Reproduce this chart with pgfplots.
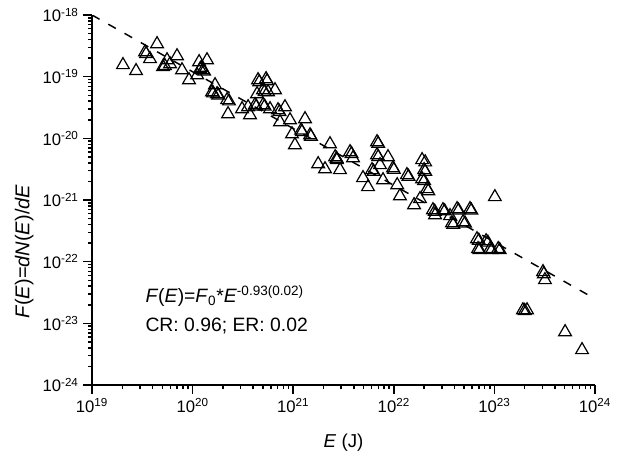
\documentclass[border=0pt]{standalone}
\usepackage{pgfplots}
\pgfplotsset{compat=1.18}
\usepackage{fontspec}
\setmainfont{Liberation Sans}
\pgfplotstableread{
x y
2.03e19 1.55e-19
2.74e19 1.24e-19
4.43e19 3.39e-19
3.37e19 2.51e-19
3.77e19 1.94e-19
5.08e19 1.44e-19
5.57e19 1.86e-19
7.00e19 2.16e-19
5.96e19 1.60e-19
7.85e19 1.28e-19
9.21e19 8.83e-20
1.16e20 1.73e-19
1.39e20 1.86e-19
1.19e20 1.33e-19
1.27e20 1.28e-19
1.11e20 1.06e-19
1.67e20 7.33e-20
1.56e20 5.64e-20
1.75e20 5.24e-20
2.20e20 4.19e-20
2.25e20 2.48e-20
4.47e20 8.83e-20
5.37e20 9.17e-20
4.37e20 5.24e-20
5.01e20 6.08e-20
5.62e20 5.64e-20
6.59e20 6.08e-20
3.10e20 2.99e-20
3.72e20 2.39e-20
3.56e20 3.22e-20
4.17e20 3.48e-20
5.01e20 3.48e-20
5.88e20 2.99e-20
7.06e20 2.88e-20
8.28e20 3.22e-20
7.39e20 1.84e-20
9.29e20 1.98e-20
1.31e21 2.06e-20
9.73e20 1.17e-20
1.22e21 1.27e-20
1.47e21 1.13e-20
1.04e21 7.80e-21
2.32e21 8.09e-21
2.61e21 4.98e-21
1.77e21 3.84e-21
2.07e21 3.18e-21
2.72e21 4.46e-21
2.92e21 3.07e-21
3.67e21 6.00e-21
3.93e21 4.80e-21
6.81e21 8.73e-21
6.81e21 5.37e-21
8.75e21 4.98e-21
6.07e21 3.07e-21
4.94e21 2.28e-21
5.54e21 1.63e-21
7.81e21 2.11e-21
9.82e21 3.30e-21
1.35e22 2.55e-21
1.08e22 1.75e-21
1.15e22 1.16e-21
1.59e22 8.30e-22
1.91e22 4.46e-21
2.00e22 3.07e-21
1.91e22 2.19e-21
2.14e22 1.51e-21
2.45e22 6.89e-22
3.08e22 6.89e-22
3.62e22 5.51e-22
4.25e22 7.15e-22
5.72e22 7.15e-22
3.79e22 4.24e-22
4.88e22 4.40e-22
6.71e22 2.33e-22
6.87e22 1.61e-22
9.04e22 1.61e-22
1.09e23 1.61e-22
8.26e22 2.16e-22
1.01e23 1.12e-21
3.04e23 6.81e-23
3.18e23 5.05e-23
1.92e23 1.64e-23
2.11e23 1.64e-23
5.04e23 7.24e-24
7.43e23 3.70e-24
7.29e21 3.70e-21
1.82e22 1.04e-21
2.57e22 5.71e-22
3.45e19 2.35e-19
5.30e19 1.50e-19
1.22e20 1.40e-19
1.30e20 1.22e-19
4.60e20 8.20e-20
5.50e20 8.50e-20
5.20e20 5.70e-20
4.30e20 3.30e-20
5.20e20 3.30e-20
7.30e20 2.70e-20
2.70e21 4.70e-21
3.80e21 5.60e-21
7.00e21 8.20e-21
7.00e21 5.00e-21
6.30e21 2.90e-21
1.00e22 3.10e-21
1.40e22 2.40e-21
2.05e22 4.10e-21
2.05e22 2.90e-21
2.00e22 2.05e-21
2.20e22 1.40e-21
2.55e22 6.50e-22
3.20e22 6.60e-22
4.40e22 6.80e-22
5.90e22 6.80e-22
3.90e22 4.00e-22
5.10e22 4.20e-22
7.00e22 2.20e-22
7.10e22 1.55e-22
9.40e22 1.55e-22
1.13e23 1.55e-22
8.60e22 2.05e-22
3.10e23 6.30e-23
2.00e23 1.60e-23
1.20e21 1.35e-20
1.50e21 1.07e-20
1.60e20 5.40e-20
1.80e20 5.00e-20
2.30e20 4.00e-20
}\datatable
\begin{document}
\begin{tikzpicture}
\begin{axis}[
  scale only axis,
  width=377.25pt, height=277.5pt,
  xmode=log, ymode=log,
  xmin=1e19, xmax=1e24, ymin=1e-24, ymax=1e-18,
  axis lines=left,
  axis line style={-, line width=1.1pt},
  every tick/.style={black, line width=1.1pt},
  tick align=outside,
  major tick length=6.5pt,
  minor tick length=3.2pt,
  xtick={1e19,1e20,1e21,1e22,1e23,1e24},
  minor xtick={2e19,3e19,4e19,5e19,6e19,7e19,8e19,9e19,
    2e20,3e20,4e20,5e20,6e20,7e20,8e20,9e20,
    2e21,3e21,4e21,5e21,6e21,7e21,8e21,9e21,
    2e22,3e22,4e22,5e22,6e22,7e22,8e22,9e22,
    2e23,3e23,4e23,5e23,6e23,7e23,8e23,9e23},
  xticklabels={10\textsuperscript{19},10\textsuperscript{20},10\textsuperscript{21},10\textsuperscript{22},10\textsuperscript{23},10\textsuperscript{24}},
  ytick={1e-24,1e-23,1e-22,1e-21,1e-20,1e-19,1e-18},
  minor ytick={2e-24,3e-24,4e-24,5e-24,6e-24,7e-24,8e-24,9e-24,
    2e-23,3e-23,4e-23,5e-23,6e-23,7e-23,8e-23,9e-23,
    2e-22,3e-22,4e-22,5e-22,6e-22,7e-22,8e-22,9e-22,
    2e-21,3e-21,4e-21,5e-21,6e-21,7e-21,8e-21,9e-21,
    2e-20,3e-20,4e-20,5e-20,6e-20,7e-20,8e-20,9e-20,
    2e-19,3e-19,4e-19,5e-19,6e-19,7e-19,8e-19,9e-19},
  yticklabels={10\textsuperscript{-24},10\textsuperscript{-23},10\textsuperscript{-22},10\textsuperscript{-21},10\textsuperscript{-20},10\textsuperscript{-19},10\textsuperscript{-18}},
  ticklabel style={font=\fontsize{12.5}{14}\selectfont},
  xlabel={\textit{E} (J)},
  ylabel={\textit{F}(\textit{E})=\textit{dN}(\textit{E})/\textit{dE}},
  xlabel style={font=\fontsize{14}{16}\selectfont, at={(axis description cs:0.5,-0.155)}, anchor=center},
  ylabel style={font=\fontsize{15}{17}\selectfont, at={(axis description cs:-0.135,0.36)}, anchor=center},
]
\addplot[black, line width=1.1pt, dash pattern=on 6.5pt off 7.5pt] coordinates {(1e19,1e-18) (1e24,2.5e-23)};
\addplot[only marks, mark=triangle, mark size=5.5pt, mark options={black, line width=0.9pt}] table {\datatable};
\node[anchor=west, font=\fontsize{14.5}{17}\selectfont] at (rel axis cs:0.097,0.24) {\textit{F}(\textit{E})=\textit{F}\textsubscript{0}*\textit{E}\textsuperscript{-0.93(0.02)}};
\node[anchor=west, font=\fontsize{14.5}{17}\selectfont] at (rel axis cs:0.097,0.159) {CR: 0.96; ER: 0.02};
\end{axis}
\path ([shift={(-69pt,-50.25pt)}]current axis.south west) rectangle ([shift={(28.5pt,11.25pt)}]current axis.north east);
\end{tikzpicture}
\end{document}
